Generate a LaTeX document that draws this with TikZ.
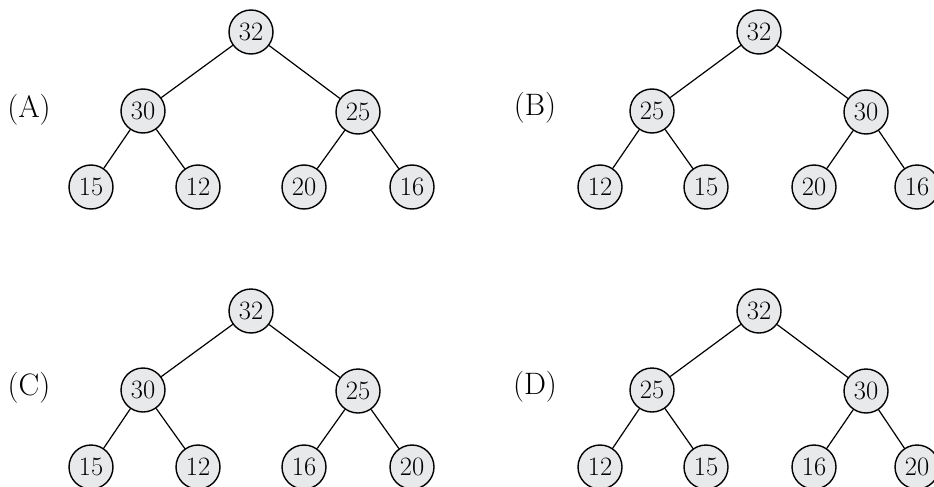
\documentclass[tikz,border=0pt]{standalone}
\usepackage{fontspec}
\usepackage{tikz}
\definecolor{nodefill}{RGB}{232,233,235}
\begin{document}
\begin{tikzpicture}[x=1pt,y=-1pt,
  keynode/.style={circle,draw=black,line width=1.4pt,fill=nodefill,minimum size=44pt,inner sep=0pt,font=\fontsize{26.5}{30}\selectfont},
  optlabel/.style={font=\fontsize{31}{35}\selectfont},
  edge/.style={draw=black,line width=1.2pt}]
\useasboundingbox (0,0) rectangle (934,487);
\clip (0,0) rectangle (934,487);
% (A)
\node[optlabel] (la) at (29,110) {(A)};
\node[keynode] (a1) at (251,32) {32};
\node[keynode] (a2) at (143,111) {30};
\node[keynode] (a3) at (358,112) {25};
\node[keynode] (a4) at (91,187) {15};
\node[keynode] (a5) at (198,187) {12};
\node[keynode] (a6) at (304,187) {20};
\node[keynode] (a7) at (412,187) {16};
\draw[edge] (a1)--(a2); \draw[edge] (a1)--(a3);
\draw[edge] (a2)--(a4); \draw[edge] (a2)--(a5);
\draw[edge] (a3)--(a6); \draw[edge] (a3)--(a7);
% (B)
\node[optlabel] (lb) at (535,108) {(B)};
\node[keynode] (b1) at (759,32) {32};
\node[keynode] (b2) at (652,111) {25};
\node[keynode] (b3) at (866,112) {30};
\node[keynode] (b4) at (600,187) {12};
\node[keynode] (b5) at (706,187) {15};
\node[keynode] (b6) at (814,187) {20};
\node[keynode] (b7) at (917,187) {16};
\draw[edge] (b1)--(b2); \draw[edge] (b1)--(b3);
\draw[edge] (b2)--(b4); \draw[edge] (b2)--(b5);
\draw[edge] (b3)--(b6); \draw[edge] (b3)--(b7);
% (C)
\node[optlabel] (lc) at (29,388) {(C)};
\node[keynode] (c1) at (251,311) {32};
\node[keynode] (c2) at (143,390) {30};
\node[keynode] (c3) at (358,391) {25};
\node[keynode] (c4) at (91,467) {15};
\node[keynode] (c5) at (198,467) {12};
\node[keynode] (c6) at (304,467) {16};
\node[keynode] (c7) at (412,467) {20};
\draw[edge] (c1)--(c2); \draw[edge] (c1)--(c3);
\draw[edge] (c2)--(c4); \draw[edge] (c2)--(c5);
\draw[edge] (c3)--(c6); \draw[edge] (c3)--(c7);
% (D)
\node[optlabel] (ld) at (535,387) {(D)};
\node[keynode] (d1) at (759,311) {32};
\node[keynode] (d2) at (652,390) {25};
\node[keynode] (d3) at (866,391) {30};
\node[keynode] (d4) at (600,467) {12};
\node[keynode] (d5) at (706,467) {15};
\node[keynode] (d6) at (814,467) {16};
\node[keynode] (d7) at (917,467) {20};
\draw[edge] (d1)--(d2); \draw[edge] (d1)--(d3);
\draw[edge] (d2)--(d4); \draw[edge] (d2)--(d5);
\draw[edge] (d3)--(d6); \draw[edge] (d3)--(d7);
\end{tikzpicture}
\end{document}
